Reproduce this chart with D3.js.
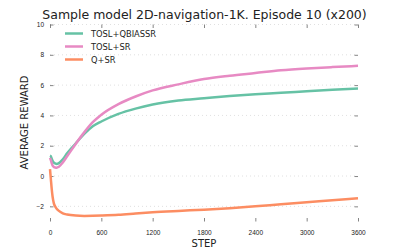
<!DOCTYPE html>
<html>
<head>
<meta charset="utf-8">
<script src="https://cdn.jsdelivr.net/npm/d3@7"></script>
<style>
  body { margin: 0; background: #fff; }
  svg { display: block; font-family: "DejaVu Sans", sans-serif; }
</style>
</head>
<body>
<div id="chart"></div>
<script>
const title = "Sample model 2D-navigation-1K. Episode 10 (x200)";
const steps = [0, 10, 20, 30, 45, 60, 80, 100, 150, 200, 300, 400, 500, 600, 800,
  1000, 1200, 1500, 1800, 2100, 2400, 2700, 3000, 3300, 3600];
const toslQbiassr = [1.35, 1.3, 1.15, 1.0, 0.88, 0.83, 0.8, 0.84, 1.1, 1.5, 2.15, 2.78,
  3.28, 3.6, 4.1, 4.45, 4.72, 4.98, 5.13, 5.28, 5.4, 5.49, 5.6, 5.7, 5.78];
const toslSr = [1.2, 1.05, 0.85, 0.7, 0.6, 0.56, 0.55, 0.6, 0.9, 1.3, 2.12, 2.88,
  3.55, 4.05, 4.75, 5.25, 5.65, 6.05, 6.4, 6.62, 6.8, 6.98, 7.1, 7.19, 7.27];
const qSr = [0.45, -0.2, -0.85, -1.35, -1.8, -2.0, -2.17, -2.28, -2.46, -2.54, -2.61, -2.63,
  -2.62, -2.6, -2.55, -2.47, -2.39, -2.3, -2.22, -2.12, -2.0, -1.86, -1.73, -1.6, -1.47];
const seriesNames = ["TOSL+QBIASSR", "TOSL+SR", "Q+SR"];
const seriesColors = ["#66c2a5", "#e78ac3", "#fc8d62"];
const xTicks = [0, 600, 1200, 1800, 2400, 3000, 3600];
const yTicks = [-2, 0, 2, 4, 6, 8, 10];

const width = 399, height = 247;
const margin = { top: 24.5, right: 41, bottom: 25.5, left: 50 };

const svg = d3.select("#chart").append("svg")
  .attr("width", width).attr("height", height);

const x = d3.scaleLinear().domain([0, 3600])
  .range([margin.left, width - margin.right]);
const y = d3.scaleLinear().domain([-3, 10])
  .range([height - margin.bottom, margin.top]);

// dotted horizontal grid
svg.append("g").selectAll("line").data(yTicks).join("line")
  .attr("x1", x(0)).attr("x2", x(3600))
  .attr("y1", d => y(d)).attr("y2", d => y(d))
  .attr("stroke", "#d8d8d8").attr("stroke-width", 0.8)
  .attr("stroke-dasharray", "1,3");

// axes, ticks pointing inward, no domain line
const fmt = d => d < 0 ? "\u2212" + Math.abs(d) : String(d);
function styleAxis(g) {
  g.select(".domain").remove();
  g.selectAll(".tick line").attr("stroke", "#666").attr("stroke-width", 0.8);
  g.selectAll(".tick text").attr("fill", "#222").style("font-size", "6.5px");
}
svg.append("g").attr("transform", `translate(0,${y(-3)})`)
  .call(d3.axisBottom(x).tickValues(xTicks).tickSize(-3.5).tickPadding(9).tickFormat(d => d))
  .call(styleAxis);
svg.append("g").attr("transform", `translate(0,${y(10)})`)
  .call(d3.axisTop(x).tickValues(xTicks).tickSize(-3.5).tickFormat(""))
  .call(styleAxis);
svg.append("g").attr("transform", `translate(${x(0)},0)`)
  .call(d3.axisLeft(y).tickValues(yTicks).tickSize(-3.5).tickPadding(6).tickFormat(fmt))
  .call(styleAxis);
svg.append("g").attr("transform", `translate(${x(3600)},0)`)
  .call(d3.axisRight(y).tickValues(yTicks).tickSize(-3.5).tickFormat(""))
  .call(styleAxis);

// series
const allSeries = [toslQbiassr, toslSr, qSr];
const line = d3.line()
  .x((d, i) => x(steps[i]))
  .y(d => y(d))
  .curve(d3.curveMonotoneX);

svg.append("g").selectAll("path").data(allSeries).join("path")
  .attr("d", line)
  .attr("fill", "none")
  .attr("stroke", (d, i) => seriesColors[i])
  .attr("stroke-width", 2.5);

// legend
const legend = svg.append("g");
seriesNames.forEach((name, i) => {
  const yy = 33.5 + i * 13;
  legend.append("line")
    .attr("x1", 65).attr("x2", 83).attr("y1", yy).attr("y2", yy)
    .attr("stroke", seriesColors[i]).attr("stroke-width", 2.5);
  legend.append("text")
    .attr("x", 91).attr("y", yy + 3)
    .style("font-size", "8.3px").attr("fill", "#222")
    .text(name);
});

// titles
svg.append("text")
  .attr("x", 204.5).attr("y", 19)
  .attr("text-anchor", "middle")
  .style("font-size", "12.5px").attr("fill", "#222")
  .text(title);

svg.append("text")
  .attr("x", 204).attr("y", 246.5)
  .attr("text-anchor", "middle")
  .style("font-size", "10px").attr("fill", "#222")
  .text("STEP");

svg.append("text")
  .attr("transform", "translate(28,122.5) rotate(-90)")
  .attr("text-anchor", "middle")
  .style("font-size", "10px").attr("fill", "#222")
  .text("AVERAGE REWARD");
</script>
</body>
</html>
